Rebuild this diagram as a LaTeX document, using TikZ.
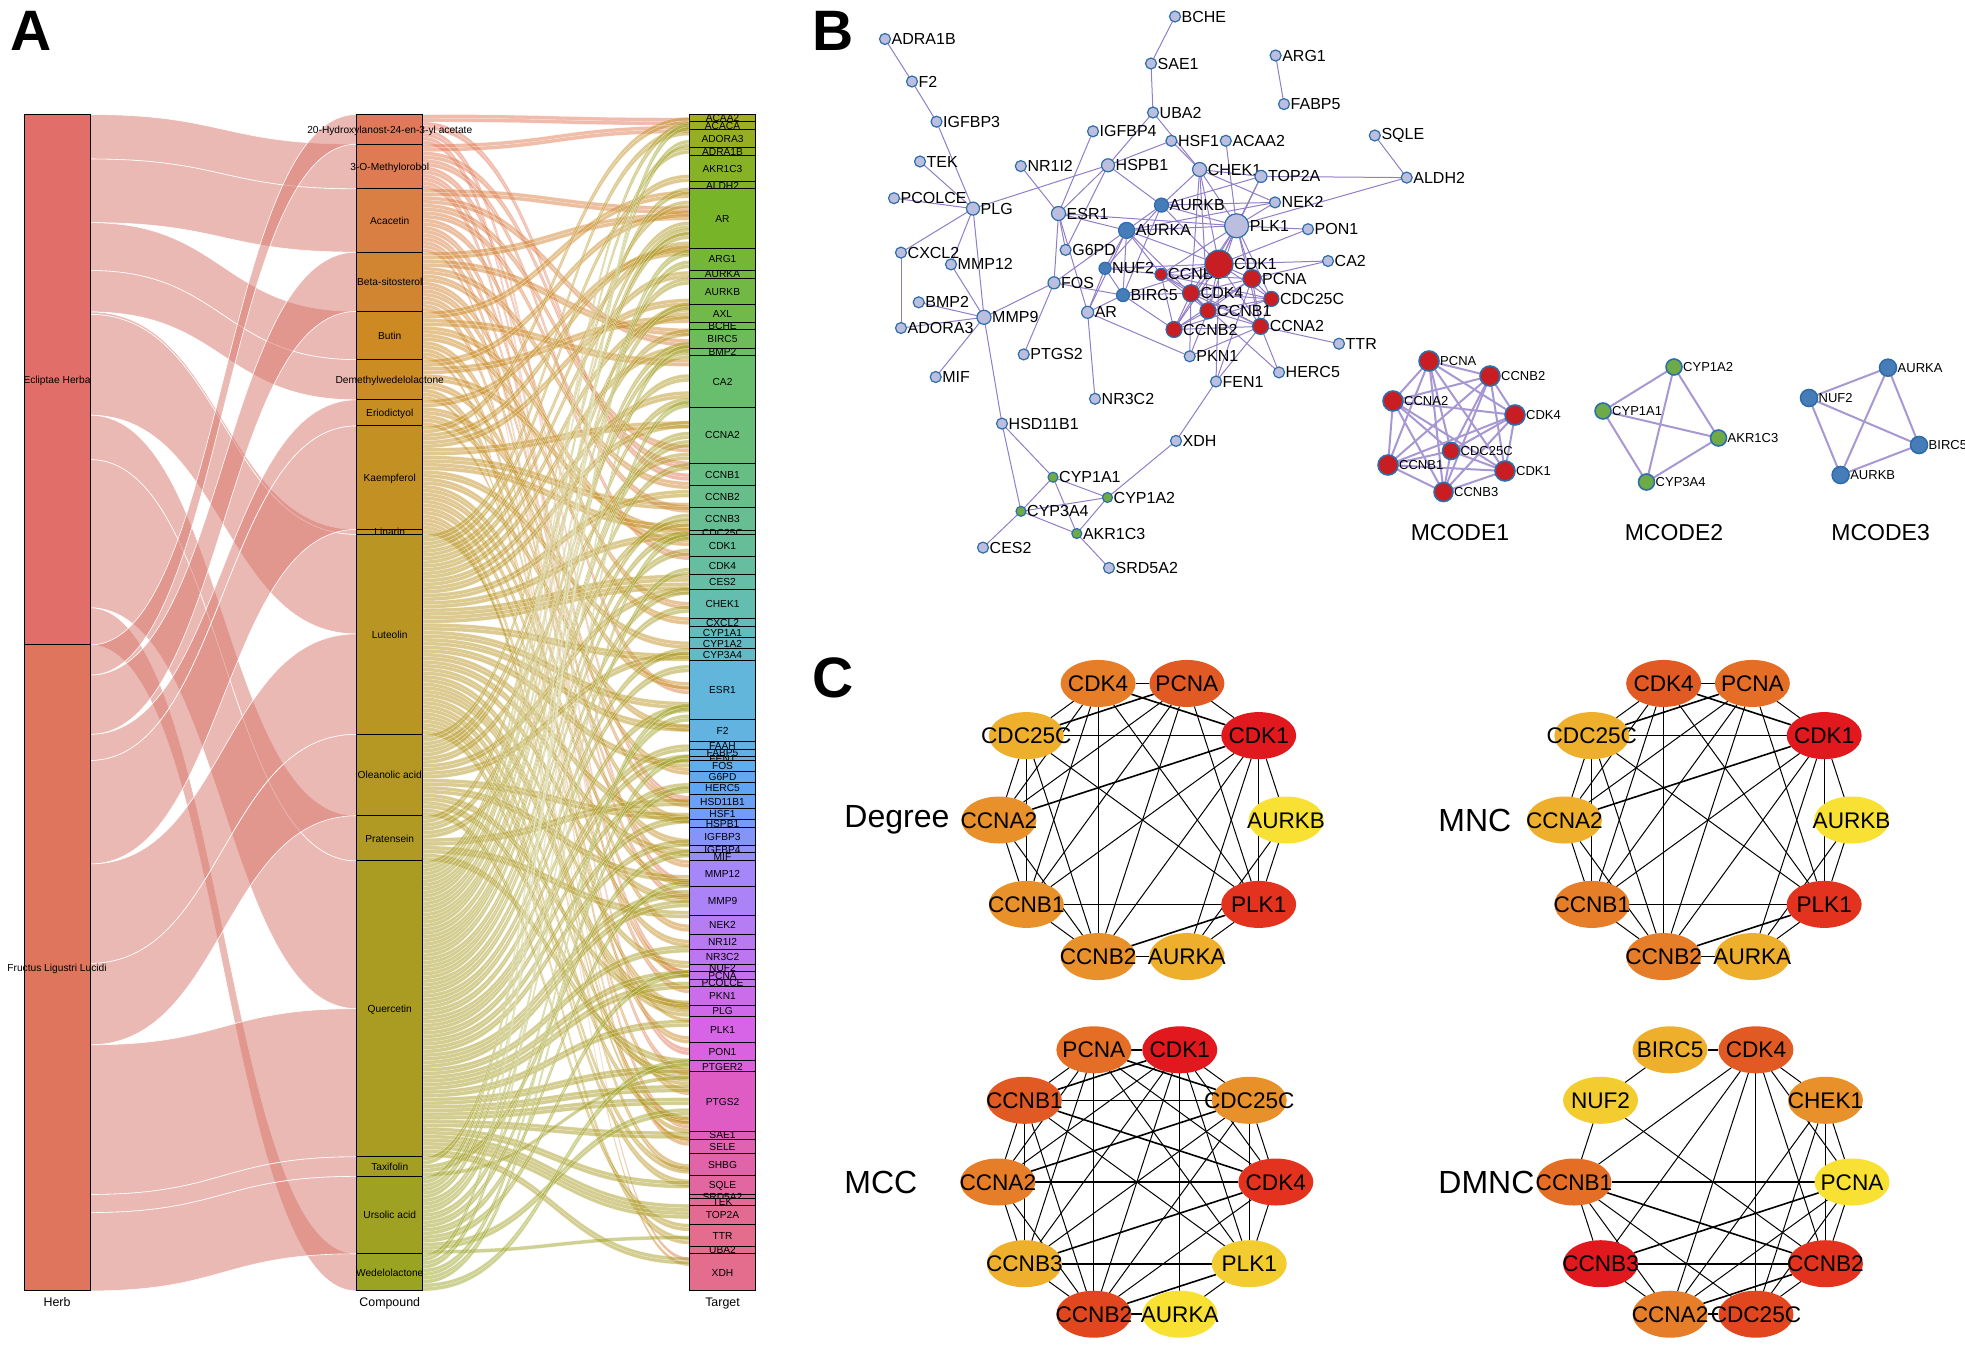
\documentclass[tikz,border=0pt]{standalone}
\usepackage{fontspec}
\setmainfont{Liberation Sans}
\usetikzlibrary{shapes.geometric,positioning,calc}
\pgfdeclarelayer{edgelayer}
\pgfsetlayers{edgelayer,main}
% herb and compound colours
\definecolor{herbA}{RGB}{226,110,105}
\definecolor{herbB}{RGB}{222,117,92}
\definecolor{flowcol}{RGB}{215,115,105}
\definecolor{kc1}{RGB}{226,120,90}
\definecolor{kc2}{RGB}{205,138,35}
\definecolor{kc3}{RGB}{185,150,35}
\definecolor{kc4}{RGB}{155,163,35}
% target colours
\definecolor{k1}{RGB}{163,173,31}
\definecolor{k2}{RGB}{120,180,40}
\definecolor{k3}{RGB}{105,190,110}
\definecolor{k4}{RGB}{100,190,175}
\definecolor{k5}{RGB}{98,182,220}
\definecolor{k6}{RGB}{95,165,245}
\definecolor{k7}{RGB}{165,135,250}
\definecolor{k8}{RGB}{215,100,230}
\definecolor{k9}{RGB}{222,92,195}
\definecolor{k10}{RGB}{228,108,140}
% network colours
\definecolor{ppiedgecol}{RGB}{145,125,200}
\definecolor{ppiring}{RGB}{45,110,170}
\definecolor{ppilight}{RGB}{187,190,222}
\definecolor{ppired}{RGB}{200,30,35}
\definecolor{ppiblue}{RGB}{70,125,185}
\definecolor{ppigreen}{RGB}{110,170,70}
% heat scale of panel C
\definecolor{h0}{RGB}{225,25,30}
\definecolor{h1}{RGB}{227,50,30}
\definecolor{h2}{RGB}{226,70,30}
\definecolor{h3}{RGB}{225,90,35}
\definecolor{h4}{RGB}{228,110,38}
\definecolor{h5}{RGB}{230,125,40}
\definecolor{h6}{RGB}{232,145,42}
\definecolor{h7}{RGB}{238,175,45}
\definecolor{h8}{RGB}{243,205,48}
\definecolor{h9}{RGB}{248,225,50}
\newcommand{\barlabel}[1]{\makebox[0pt]{\raisebox{-.36em}[0pt][0pt]{#1}}}
\newcommand{\ribbon}[7]{\path[#1] (#2,#3) .. controls ({(#2+#5)/2},#3) and ({(#2+#5)/2},#6) .. (#5,#6)
    -- (#5,#7) .. controls ({(#2+#5)/2},#7) and ({(#2+#5)/2},#4) .. (#2,#4) -- cycle;}
\tikzset{
    sbar/.style={rectangle, draw=black, line width=.5pt, fill=#1, inner sep=0pt, outer sep=0pt,
        minimum width=33pt, font=\fontsize{5.1}{6}\selectfont},
    herbflow/.style={fill=flowcol, fill opacity=.5, draw=white, line width=.3pt},
    cmpflow/.style={fill=#1, fill opacity=.5, draw=white, draw opacity=.6, line width=.12pt},
    panelmark/.style={font=\fontsize{28.5}{30}\selectfont\bfseries, inner sep=0pt},
    ppinode/.style={circle, draw=ppiring, line width=.6pt, fill=#1, inner sep=0pt, outer sep=0pt},
    ppitext/.style={font=\fontsize{8}{9}\selectfont, inner sep=.4pt, label distance=0pt},
    mcodetext/.style={font=\fontsize{6.5}{8}\selectfont, inner sep=.4pt},
    ppiedge/.style={draw=ppiedgecol, line width=.5pt},
    mcodeedge/.style={draw=ppiedgecol!80!white, line width=1pt},
    hubnode/.style={ellipse, fill=#1, inner sep=0pt, outer sep=0pt, minimum width=37.5pt, minimum height=23.5pt,
        font=\fontsize{11.3}{13}\selectfont},
    thinedge/.style={draw=black, line width=.5pt},
    thickedge/.style={draw=black, line width=.8pt},
    methodtext/.style={font=\fontsize{16}{18}\selectfont, inner sep=0pt, anchor=west}
}

\begin{document}
\begin{tikzpicture}[x=0.5pt, y=-0.5pt]
    \useasboundingbox (0,0) rectangle (1965,1344);

    \node[panelmark] (markA) at (31,31) {A};
    \node[panelmark] (markB) at (833,31) {B};
    \node[panelmark] (markC) at (833,678) {C};

    % panel A
    \begin{scope}[y=-0.5023pt]
    \node[sbar=herbA, minimum height={(642-114)*0.5023pt}] (herb-1) at (57,378) {\barlabel{Ecliptae Herba}};
    \node[sbar=herbB, minimum height={(1285-642)*0.5023pt}] (herb-2) at (57,963.5) {\barlabel{Fructus Ligustri Lucidi}};

    \begin{pgfonlayer}{edgelayer}
    \foreach \la/\lb/\ra/\rb in {
        114/158.3/143.5/188, 158.3/221.6/188/251, 221.6/269.3/310/358, 269.3/310.5/358/398,
        310.5/313/527/532, 313/413.3/532/631, 413.3/457.5/812/857, 457.5/605/857/1004, 605/642/1248/1285,
        642/672/114/143.5, 672/731/251/310, 731/757/398/424, 757/860/424/527, 860/959/631/731,
        959/1040/731/812, 1040/1189/1004/1151.5, 1189/1207/1151.5/1171, 1207/1285/1171/1248}{
        \ribbon{herbflow}{90}{\la}{\lb}{356.5}{\ra}{\rb}
    }
    \end{pgfonlayer}

    \pgfmathsetseed{23}
    \foreach \name/\ya/\yb/\col/\nlinks [count=\i] in {
        20-Hydroxylanost-24-en-3-yl acetate/114/143.5/kc1/8,
        3-O-Methylorobol/143.5/188/kc1!85!kc2/12,
        Acacetin/188/251/kc1!60!kc2/17,
        Beta-sitosterol/251/310/kc1!25!kc2/16,
        Butin/310/358/kc2/13,
        Demethylwedelolactone/358/398/kc2!85!kc3/11,
        Eriodictyol/398/424/kc2!70!kc3/7,
        Kaempferol/424/527/kc2!50!kc3/28,
        Linarin/527/532/kc2!25!kc3/1,
        Luteolin/532/731/kc3/54,
        Oleanolic acid/731/812/kc3!85!kc4/22,
        Pratensein/812/857/kc3!70!kc4/12,
        Quercetin/857/1151.5/kc3!50!kc4/80,
        Taxifolin/1151.5/1171/kc3!30!kc4/5,
        Ursolic acid/1171/1248/kc3!15!kc4/21,
        Wedelolactone/1248/1285/kc4/10}{
        \node[sbar=\col, minimum height={(\yb-\ya)*0.5023pt}] (cmp-\i) at (389.75,{(\ya+\yb)/2}) {\barlabel{\name}};
        \pgfmathsetmacro\bandw{(\yb-\ya)/\nlinks}
        \begin{pgfonlayer}{edgelayer}
        % links leave in pairs that end side by side
        \foreach \j in {1,...,\nlinks}{
            \pgfmathtruncatemacro\blk{(\j-1)/2}
            \pgfmathtruncatemacro\pos{mod(\j-1,2)}
            \ifnum\pos=0 \pgfmathsetmacro\tmpoff{rnd}\xdef\bundleoff{\tmpoff}\fi
            \pgfmathsetmacro\yl{\ya+(\j-1)*\bandw}
            \pgfmathsetmacro\ym{\yl+\bandw}
            \pgfmathsetmacro\yr{114+(\blk+\bundleoff)*2/(\nlinks+1)*(1171-2*\bandw)+\pos*\bandw}
            \pgfmathsetmacro\ys{\yr+\bandw}
            \ribbon{cmpflow=\col}{423}{\yl}{\ym}{689}{\yr}{\ys}
        }
        \end{pgfonlayer}
    }

    \foreach \name/\ya/\yb/\col in {
        ACAA2/114/121.4/k1, ACACA/121.4/129/k1!85!k2, ADORA3/129/147/k1!70!k2, ADRA1B/147/155/k1!55!k2,
        AKR1C3/155/181/k1!35!k2, ALDH2/181/188/k1!15!k2, AR/188/247/k2, ARG1/247/269/k2!80!k3,
        AURKA/269/277/k2!70!k3, AURKB/277/303/k2!60!k3, AXL/303/321/k2!50!k3, BCHE/321/328/k2!40!k3,
        BIRC5/328/346.5/k2!30!k3, BMP2/346.5/354/k2!15!k3, CA2/354/405.5/k3, CCNA2/405.5/461/k3!85!k4,
        CCNB1/461/483.5/k3!65!k4, CCNB2/483.5/505.5/k3!55!k4, CCNB3/505.5/528/k3!45!k4, CDC25C/528/532/k3!40!k4,
        CDK1/532/554/k3!35!k4, CDK4/554/572/k3!25!k4, CES2/572/587/k3!15!k4, CHEK1/587/616/k4,
        CXCL2/616/624/k4!80!k5, CYP1A1/624/635/k4!70!k5, CYP1A2/635/646/k4!60!k5, CYP3A4/646/657/k4!50!k5,
        ESR1/657/716/k5, F2/716/738.4/k5!85!k6, FAAH/738.4/745.7/k5!75!k6, FABP5/745.7/753/k5!65!k6,
        FEN1/753/757/k5!60!k6, FOS/757/768/k5!45!k6, G6PD/768/779/k5!25!k6, HERC5/779/790.4/k6,
        HSD11B1/790.4/805/k6!85!k7, HSF1/805/816/k6!75!k7, HSPB1/816/823.5/k6!65!k7, IGFBP3/823.5/842/k6!45!k7,
        IGFBP4/842/849/k6!30!k7, MIF/849/856.6/k6!20!k7, MMP12/856.6/882.4/k7, MMP9/882.4/911.6/k7!85!k8,
        NEK2/911.6/930/k7!70!k8, NR1I2/930/945/k7!60!k8, NR3C2/945/960/k7!50!k8, NUF2/960/967.5/k7!45!k8,
        PCNA/967.5/975/k7!40!k8, PCOLCE/975/982/k7!35!k8, PKN1/982/1000.6/k7!25!k8, PLG/1000.6/1012/k7!15!k8,
        PLK1/1012/1037.6/k8, PON1/1037.6/1056/k8!80!k9, PTGER2/1056/1067/k8!60!k9, PTGS2/1067/1126/k9,
        SAE1/1126/1134/k9!80!k10, SELE/1134/1148.5/k9!65!k10, SHBG/1148.5/1170.5/k9!50!k10, SQLE/1170.5/1189/k9!35!k10,
        SRD5A2/1189/1193/k9!25!k10, TEK/1193/1200/k9!20!k10, TOP2A/1200/1219/k9!10!k10, TTR/1219/1240.5/k10,
        UBA2/1240.5/1248/k10, XDH/1248/1285/k10}
        \node[sbar=\col, minimum height={(\yb-\ya)*0.5023pt}] (tgt-\name) at (722.5,{(\ya+\yb)/2}) {\barlabel{\name}};

    \node[font=\fontsize{6.2}{7}\selectfont, below=0pt of herb-2] (axis-1) {Herb};
    \node[font=\fontsize{6.2}{7}\selectfont, below=0pt of cmp-16] (axis-2) {Compound};
    \node[font=\fontsize{6.2}{7}\selectfont, below=0pt of tgt-XDH] (axis-3) {Target};
    \end{scope}

    % panel B
    \foreach \name/\x/\y/\d in {
        ADRA1B/885/39/11, F2/912/81.5/11, IGFBP3/936.5/121.7/11, TEK/920/161.5/11, PCOLCE/894/198.2/11,
        PLG/973/208.6/13, CXCL2/901/252.6/11, MMP12/951/264.4/11, BMP2/918.7/302.3/11, ADORA3/901/328/11,
        MMP9/984/317.3/14, MIF/935.7/377/11, HSD11B1/1002/423.6/11, PTGS2/1023.7/354.4/11, FOS/1054/282.8/12,
        AR/1087.6/312.3/12, NR3C2/1095/398.8/11, G6PD/1065.6/249.9/11, ESR1/1058.5/213.5/14, NR1I2/1020.8/166.1/11,
        IGFBP4/1093/131.3/11, HSPB1/1108/165.3/13, HSF1/1171.4/140.8/11, UBA2/1153/112.5/11, SAE1/1151/63.5/11,
        BCHE/1175/16.5/11, ARG1/1275.6/55.5/11, FABP5/1284/104.1/11, ACAA2/1225.8/140.8/11, SQLE/1374.8/135.5/11,
        ALDH2/1406.7/177.6/11, CHEK1/1199.6/169.5/14, TOP2A/1261/176.4/12, NEK2/1275/202.4/11, PLK1/1236.6/225.8/24,
        PON1/1308/229.2/11, CA2/1328/261/11, TTR/1339/343.7/11, PKN1/1189.7/356.3/11, HERC5/1279/372.4/11,
        FEN1/1216/381.5/11, XDH/1176/440.9/11, CES2/983/547.6/11, SRD5A2/1109/567.9/11}
        \node[ppinode=ppilight, minimum size=\d*0.5pt, label={[ppitext]right:\name}] (b-\name) at (\x,\y) {};
    \foreach \name/\x/\y/\d in {
        CCNB3/1161/274.4/12, CDK1/1219/264.1/28, PCNA/1252/278.6/18, CDK4/1191/293.2/17, CDC25C/1271.4/298.9/15,
        CCNB1/1208/310.8/16, CCNB2/1174/329.5/16, CCNA2/1260.6/326.4/16}
        \node[ppinode=ppired, minimum size=\d*0.5pt, label={[ppitext]right:\name}] (b-\name) at (\x,\y) {};
    \foreach \name/\x/\y/\d in {AURKB/1161.5/205.1/14, AURKA/1126.6/230.4/16, NUF2/1105/268.3/12, BIRC5/1123/295.1/13}
        \node[ppinode=ppiblue, minimum size=\d*0.5pt, label={[ppitext]right:\name}] (b-\name) at (\x,\y) {};
    \foreach \name/\x/\y/\d in {CYP1A1/1053/477.2/10, CYP1A2/1107.5/497.5/10, CYP3A4/1021/511.3/10, AKR1C3/1076.8/533.5/10}
        \node[ppinode=ppigreen, minimum size=\d*0.5pt, label={[ppitext]right:\name}] (b-\name) at (\x,\y) {};

    \begin{pgfonlayer}{edgelayer}
    \foreach \a/\b in {ADRA1B/F2, F2/IGFBP3, IGFBP3/PLG, TEK/PLG, PCOLCE/PLG, PLG/CXCL2, PLG/MMP12, PLG/MMP9, PLG/HSPB1,
        CXCL2/ADORA3, MMP12/MMP9, BMP2/MMP9, ADORA3/MMP9, MIF/MMP9, MMP9/FOS, MMP9/HSD11B1, HSD11B1/CYP1A1, HSD11B1/CYP3A4,
        FOS/PTGS2, FOS/ESR1, FOS/AURKA, FOS/BIRC5, ESR1/NR1I2, ESR1/IGFBP4, ESR1/HSPB1, ESR1/G6PD, ESR1/AR, ESR1/AURKA, ESR1/PLK1,
        HSPB1/G6PD, HSPB1/HSF1, HSPB1/UBA2, HSPB1/AURKB, UBA2/SAE1, SAE1/BCHE, UBA2/CHEK1, HSF1/CHEK1, ARG1/FABP5, ACAA2/PLK1,
        SQLE/ALDH2, ALDH2/TOP2A, ALDH2/PLK1, CHEK1/NEK2, CHEK1/CDK1, CHEK1/PLK1, CHEK1/AURKB, CHEK1/CCNB1, CHEK1/CDK4,
        TOP2A/PLK1, TOP2A/CDK1, TOP2A/AURKB, TOP2A/CHEK1, NEK2/PLK1, NEK2/AURKB, NEK2/AURKA, AURKB/AURKA, AURKB/PLK1, AURKB/CDK1,
        AURKB/NUF2, AURKB/BIRC5, AURKA/PLK1, AURKA/CDK1, AURKA/CCNB1, AURKA/NUF2, AURKA/BIRC5, AURKA/CCNB3, AURKA/AR,
        PLK1/PON1, PLK1/CDK1, PLK1/PCNA, PLK1/CDK4, PLK1/CDC25C, PLK1/CCNB1, PLK1/CCNB2, PLK1/CCNA2, PLK1/CCNB3, PON1/CDK1,
        CA2/CDK1, CA2/PCNA, TTR/CCNA2, PKN1/AR, PKN1/CCNB1, PKN1/CDK4, PKN1/CCNA2, HERC5/CCNA2, HERC5/CDK4, FEN1/PCNA, FEN1/CCNA2,
        FEN1/CDK1, FEN1/XDH, XDH/CYP1A2, CYP1A1/CYP1A2, CYP1A1/CYP3A4, CYP1A1/AKR1C3, CYP1A2/CYP3A4, CYP1A2/AKR1C3, CYP3A4/AKR1C3,
        CYP3A4/CES2, AKR1C3/SRD5A2, AR/NR3C2, AR/NUF2, AR/BIRC5, NUF2/CCNB3, NUF2/CDK1, NUF2/BIRC5, BIRC5/CDK1, BIRC5/CDK4, BIRC5/CCNB2}
        \draw[ppiedge] (b-\a) -- (b-\b);
    \foreach \a [count=\i] in {PCNA,CCNB2,CCNA2,CDK4,CDC25C,CCNB1,CDK1,CCNB3}{
        \foreach \b [count=\j] in {PCNA,CCNB2,CCNA2,CDK4,CDC25C,CCNB1,CDK1,CCNB3}{
            \ifnum\i<\j \draw[ppiedge] (b-\a) -- (b-\b); \fi
        }
    }
    \end{pgfonlayer}

    % MCODE clusters
    \foreach \name/\x/\y/\d in {PCNA/1429/361/20, CCNB2/1490/376/20, CCNA2/1393/401/20, CDK4/1515/415/20,
        CDC25C/1451/451/17, CCNB1/1388/465/20, CDK1/1505/471/20, CCNB3/1443.5/492/19}
        \node[ppinode=ppired, line width=.8pt, minimum size=\d*0.5pt, label={[mcodetext]right:\name}] (m1-\name) at (\x,\y) {};
    \foreach \name/\x/\y in {CYP1A2/1674/367, CYP1A1/1603/411, AKR1C3/1718.5/438, CYP3A4/1646.5/482}
        \node[ppinode=ppigreen, line width=.8pt, minimum size=8pt, label={[mcodetext]right:\name}] (m2-\name) at (\x,\y) {};
    \foreach \name/\x/\y in {AURKA/1888/367.7, NUF2/1809/398, BIRC5/1919/445, AURKB/1840.6/475}
        \node[ppinode=ppiblue, line width=.8pt, minimum size=8.5pt, label={[mcodetext]right:\name}] (m3-\name) at (\x,\y) {};
    \begin{pgfonlayer}{edgelayer}
    \foreach \a [count=\i] in {PCNA,CCNB2,CCNA2,CDK4,CDC25C,CCNB1,CDK1,CCNB3}{
        \foreach \b [count=\j] in {PCNA,CCNB2,CCNA2,CDK4,CDC25C,CCNB1,CDK1,CCNB3}{
            \ifnum\i<\j \draw[mcodeedge] (m1-\a) -- (m1-\b); \fi
        }
    }
    \foreach \a/\b in {CYP1A2/CYP1A1, CYP1A2/AKR1C3, CYP1A2/CYP3A4, CYP1A1/AKR1C3, CYP1A1/CYP3A4, AKR1C3/CYP3A4}
        \draw[mcodeedge] (m2-\a) -- (m2-\b);
    \foreach \a/\b in {AURKA/NUF2, AURKA/BIRC5, AURKA/AURKB, NUF2/BIRC5, NUF2/AURKB, BIRC5/AURKB}
        \draw[mcodeedge] (m3-\a) -- (m3-\b);
    \end{pgfonlayer}
    \foreach \name/\x in {MCODE1/1460, MCODE2/1674, MCODE3/1880.6}
        \node[font=\fontsize{11.5}{13}\selectfont, inner sep=0pt] (title-\name) at (\x,533) {\name};

    % panel C
    \foreach \p/\lx/\ly/\lbl in {deg/844/820/Degree, mnc/1438/820/MNC, mcc/844/1182/MCC, dmn/1438/1182/DMNC}
        \node[methodtext] (lab-\p) at (\lx,\ly) {\lbl};

    \begin{scope}[shift={(1142.5,820)}]
    \foreach \name/\heat/\ang in {AURKB/h9/0, PLK1/h1/36, AURKA/h7/72, CCNB2/h6/108, CCNB1/h6/144,
        CCNA2/h6/180, CDC25C/h7/216, CDK4/h5/252, PCNA/h3/288, CDK1/h0/324}
        \node[hubnode=\heat] (deg-\name) at (\ang:143.6) {\barlabel{\name}};
    \end{scope}
    \begin{scope}[shift={(1708,820)}]
    \foreach \name/\heat/\ang in {AURKB/h9/0, PLK1/h1/36, AURKA/h7/72, CCNB2/h5/108, CCNB1/h5/144,
        CCNA2/h7/180, CDC25C/h7/216, CDK4/h3/252, PCNA/h4/288, CDK1/h0/324}
        \node[hubnode=\heat] (mnc-\name) at (\ang:143.6) {\barlabel{\name}};
    \end{scope}
    \begin{scope}[shift={(1136.8,1182)}]
    \foreach \name/\heat/\ang in {CDK4/h1/0, PLK1/h8/36, AURKA/h9/72, CCNB2/h2/108, CCNB3/h7/144,
        CCNA2/h5/180, CCNB1/h3/216, PCNA/h4/252, CDK1/h0/288, CDC25C/h6/324}
        \node[hubnode=\heat] (mcc-\name) at (\ang:139) {\barlabel{\name}};
    \end{scope}
    \begin{scope}[shift={(1713,1182)}]
    \foreach \name/\heat/\ang in {PCNA/h9/0, CCNB2/h1/36, CDC25C/h2/72, CCNA2/h5/108, CCNB3/h0/144,
        CCNB1/h4/180, NUF2/h8/216, BIRC5/h7/252, CDK4/h3/288, CHEK1/h6/324}
        \node[hubnode=\heat] (dmn-\name) at (\ang:139) {\barlabel{\name}};
    \end{scope}

    \begin{pgfonlayer}{edgelayer}
    \foreach \p in {deg,mnc}{
        \foreach \a/\b in {CDK4/PCNA, CDC25C/CDK1, CCNB1/PLK1, CCNB2/AURKA, CCNA2/CDK1, CCNB2/PLK1, PCNA/CDC25C, CDK4/CDK1}
            \draw[thickedge] (\p-\a) -- (\p-\b);
        \foreach \a/\b in {CDK4/CDC25C, CDK4/CCNA2, CDK4/CCNB1, CDK4/CCNB2, CDK4/PLK1, PCNA/CDK1, PCNA/CCNA2, PCNA/CCNB1,
            PCNA/CCNB2, PCNA/PLK1, CDK1/CCNB1, CDK1/CCNB2, CDK1/AURKA, CDK1/AURKB, CDK1/PLK1, AURKB/PLK1, AURKB/AURKA,
            PLK1/AURKA, CCNB1/CCNA2, CCNB1/CDC25C, CCNB1/CCNB2, CCNA2/CDC25C, CCNA2/CCNB2, CDC25C/CCNB2, CDC25C/PLK1}
            \draw[thinedge] (\p-\a) -- (\p-\b);
    }
    \foreach \a/\b in {PCNA/CDK1, CCNB1/CDC25C, CCNA2/CDK4, CCNB3/PLK1, CCNB2/AURKA, CCNB3/CDK4, CCNB1/CDK4, CCNA2/CDC25C,
        CCNB2/PLK1, CCNB1/CDK1, PCNA/CDC25C}
        \draw[thickedge] (mcc-\a) -- (mcc-\b);
    \foreach \a/\b in {PCNA/CCNB1, PCNA/CCNA2, PCNA/CCNB3, PCNA/CCNB2, PCNA/CDK4, PCNA/PLK1, CDK1/CDC25C, CDK1/CDK4, CDK1/PLK1,
        CDK1/AURKA, CDK1/CCNB2, CDK1/CCNB3, CDK1/CCNA2, CDC25C/CDK4, CDC25C/PLK1, CDC25C/CCNB2, CDC25C/CCNB3, CDK4/PLK1, CDK4/CCNB2,
        PLK1/AURKA, CCNB1/CCNA2, CCNB1/CCNB3, CCNB1/CCNB2, CCNB1/PLK1, CCNA2/CCNB3, CCNA2/CCNB2, CCNB3/CCNB2}
        \draw[thinedge] (mcc-\a) -- (mcc-\b);
    \foreach \a/\b in {BIRC5/CDK4, CCNB1/PCNA, CCNB1/CCNB2, CCNB3/PCNA, CCNB3/CCNB2, CCNA2/CCNB2, CCNA2/CDC25C}
        \draw[thickedge] (dmn-\a) -- (dmn-\b);
    \foreach \a/\b in {BIRC5/NUF2, CDK4/CHEK1, CDK4/CDC25C, CDK4/CCNB1, CDK4/CCNB3, CDK4/CCNA2, CDK4/CCNB2, CDK4/PCNA,
        CHEK1/PCNA, CHEK1/CCNA2, CHEK1/CDC25C, CHEK1/CCNB2, NUF2/CCNB1, NUF2/CCNB2, CCNB1/CCNB3, CCNB1/CCNA2, CCNB1/CDC25C,
        CCNB3/CCNA2, CCNA2/PCNA, CDC25C/PCNA, CDC25C/CCNB2, PCNA/CCNB2}
        \draw[thinedge] (dmn-\a) -- (dmn-\b);
    \end{pgfonlayer}
\end{tikzpicture}
\end{document}
